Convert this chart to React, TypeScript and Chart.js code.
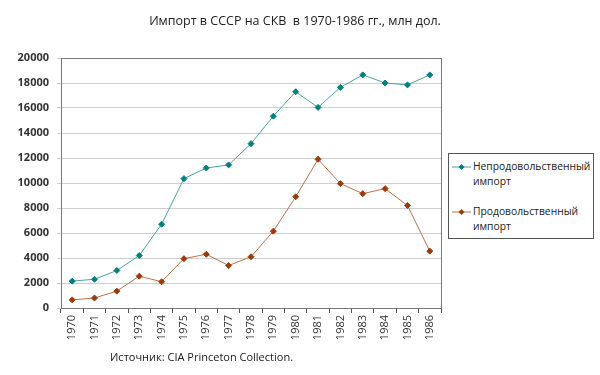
import React, { useEffect, useRef } from "react";
import { Chart, registerables } from "chart.js";

Chart.register(...registerables);

const years = ["1970","1971","1972","1973","1974","1975","1976","1977","1978","1979","1980","1981","1982","1983","1984","1985","1986"];
const nonFood = [2150, 2300, 3000, 4200, 6700, 10350, 11200, 11450, 13150, 15350, 17300, 16050, 17650, 18650, 18000, 17850, 18650];
const food = [650, 800, 1350, 2550, 2100, 3950, 4300, 3400, 4100, 6150, 8900, 11900, 9950, 9150, 9550, 8200, 4550];
const yTicks = [0, 2000, 4000, 6000, 8000, 10000, 12000, 14000, 16000, 18000, 20000];

const title = "Импорт в СССР на СКВ  в 1970-1986 гг., млн дол.";
const source = "Источник: CIA Princeton Collection.";
const legendLabels = [["Непродовольственный", "импорт"], ["Продовольственный", "импорт"]];

const tealLine = "#4aa6a6";
const tealPoint = "#008080";
const brownLine = "#c2714a";
const brownPoint = "#9c3a0b";
const FONT = "'Open Sans', sans-serif";

const borderPlugin = {
  id: "plotBorder",
  afterDraw(chart: any) {
    const { ctx, chartArea } = chart;
    ctx.save();
    ctx.strokeStyle = "#7a7a7a";
    ctx.lineWidth = 1;
    ctx.strokeRect(Math.round(chartArea.left) + 0.5, Math.round(chartArea.top) + 0.5, Math.round(chartArea.right - chartArea.left), Math.round(chartArea.bottom - chartArea.top));
    ctx.restore();
  },
};

export default function App() {
  const ref = useRef<HTMLCanvasElement>(null);
  useEffect(() => {
    const chart = new Chart(ref.current!, {
      type: "line",
      data: {
        labels: years,
        datasets: [
          {
            label: legendLabels[0].join(" "),
            data: nonFood,
            borderColor: tealLine,
            backgroundColor: tealPoint,
            pointBorderColor: tealPoint,
            pointBackgroundColor: tealPoint,
            pointStyle: "rectRot",
            pointRadius: 3,
            borderWidth: 1,
            tension: 0,
          },
          {
            label: legendLabels[1].join(" "),
            data: food,
            borderColor: brownLine,
            backgroundColor: brownPoint,
            pointBorderColor: brownPoint,
            pointBackgroundColor: brownPoint,
            pointStyle: "rectRot",
            pointRadius: 3,
            borderWidth: 1,
            tension: 0,
          },
        ],
      },
      options: {
        animation: false,
        responsive: false,
        layout: { padding: { left: 0, top: 58, right: 159, bottom: 0 } },
        plugins: { legend: { display: false }, title: { display: false }, tooltip: { enabled: false } },
        scales: {
          x: {
            offset: true,
            grid: { display: true, drawOnChartArea: false, drawTicks: true, tickLength: 5, offset: true, color: "#555" },
            border: { display: true, color: "#7a7a7a" },
            ticks: { maxRotation: 90, minRotation: 90, color: "#333", font: { family: FONT, size: 11 }, padding: 2 },
            afterFit(scale: any) { scale.height = 67; },
          },
          y: {
            min: 0,
            max: 20000,
            afterBuildTicks(scale: any) { scale.ticks = yTicks.map((v) => ({ value: v })); },
            grid: { color: "#cfcfcf", drawTicks: true, tickLength: 4 },
            border: { display: true, color: "#7a7a7a" },
            ticks: { color: "#333", font: { family: FONT, size: 11, weight: "bold" as any }, padding: 8, callback: (v: any) => String(v) },
            afterFit(scale: any) { scale.width = 61; },
          },
        },
      },
      plugins: [borderPlugin],
    });
    return () => chart.destroy();
  }, []);

  return (
    <div style={{ position: "fixed", left: 0, top: 0, width: 600, height: 375, background: "#fff", fontFamily: FONT, color: "#222" }}>
      <canvas ref={ref} width={600} height={375} style={{ position: "absolute", left: 0, top: 0 }} />
      <div style={{ position: "absolute", left: 0, width: 590, top: 12, textAlign: "center", fontSize: 12.5, whiteSpace: "pre" }}>{title}</div>
      <div style={{ position: "absolute", left: 110, top: 349, fontSize: 11 }}>{source}</div>
      <div style={{ position: "absolute", left: 448, top: 153, width: 146, height: 86, boxSizing: "border-box", border: "1px solid #555", background: "#fff" }}>
        {legendLabels.map((lines, i) => (
          <div key={i} style={{ position: "absolute", left: 0, top: i === 0 ? 5 : 50, width: 145 }}>
            <svg width={20} height={10} style={{ position: "absolute", left: 3, top: 3 }}>
              <line x1={0} y1={5} x2={19} y2={5} stroke={i === 0 ? tealLine : brownLine} strokeWidth={1} />
              <polygon points="9.5,2 12.5,5 9.5,8 6.5,5" fill={i === 0 ? tealPoint : brownPoint} />
            </svg>
            <div style={{ position: "absolute", left: 24, top: 0, fontSize: 10.3, lineHeight: "15px", whiteSpace: "nowrap" }}>
              {lines[0]}<br />{lines[1]}
            </div>
          </div>
        ))}
      </div>
    </div>
  );
}
